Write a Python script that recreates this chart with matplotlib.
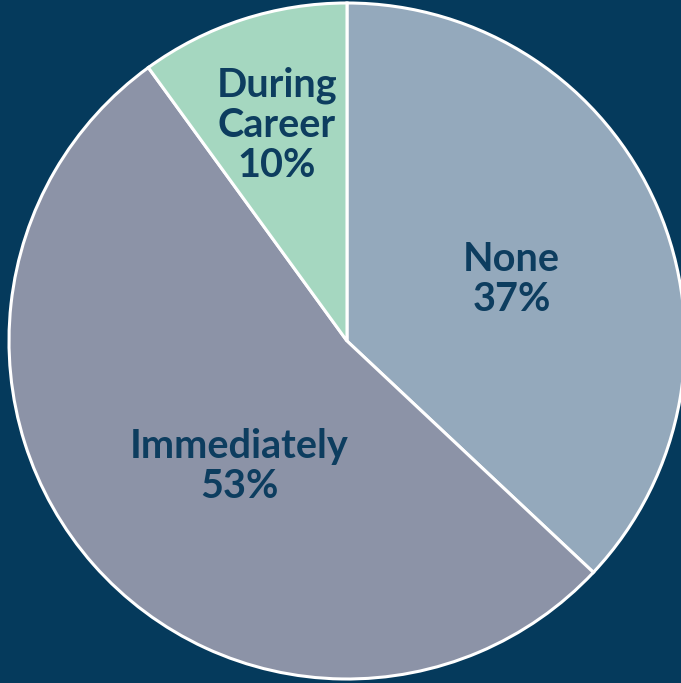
import numpy as np
import matplotlib.pyplot as plt

labels = ["None", "Immediately", "During\nCareer"]
shares = [37, 53, 10]
colors = ["#94a9bc", "#8c93a7", "#a5d7c0"]

bg = "#053a5c"
txt = "#0d3d5f"

fig = plt.figure(figsize=(6.81, 6.83), dpi=100, facecolor=bg)
ax = fig.add_axes([0, 0, 1, 1])
ax.set_facecolor(bg)

cx, cy, r = 347, 342, 338
wedges, _ = ax.pie(shares, colors=colors, startangle=90, counterclock=False,
                   center=(cx, cy), radius=r, frame=True,
                   wedgeprops=dict(edgecolor="white", linewidth=2.2))
ax.set_xlim(0, 681)
ax.set_ylim(0, 683)
ax.set_aspect("equal")
ax.axis("off")

# label placement: fraction of radius, angle nudge from wedge middle
label_r = [0.52, 0.49, 0.67]
label_shift = [-3, 8, 0]
for w, lab, val, lr, sh in zip(wedges, labels, shares, label_r, label_shift):
    ang = np.deg2rad((w.theta1 + w.theta2) / 2 + sh)
    x = cx + lr * r * np.cos(ang)
    y = cy + lr * r * np.sin(ang)
    ax.text(x, y, f"{lab}\n{val}%", ha="center", va="center",
            fontsize=28.5, fontweight="bold", family="Lato", color=txt,
            linespacing=1.1)

fig.savefig("out.png", dpi=100, facecolor=bg)
